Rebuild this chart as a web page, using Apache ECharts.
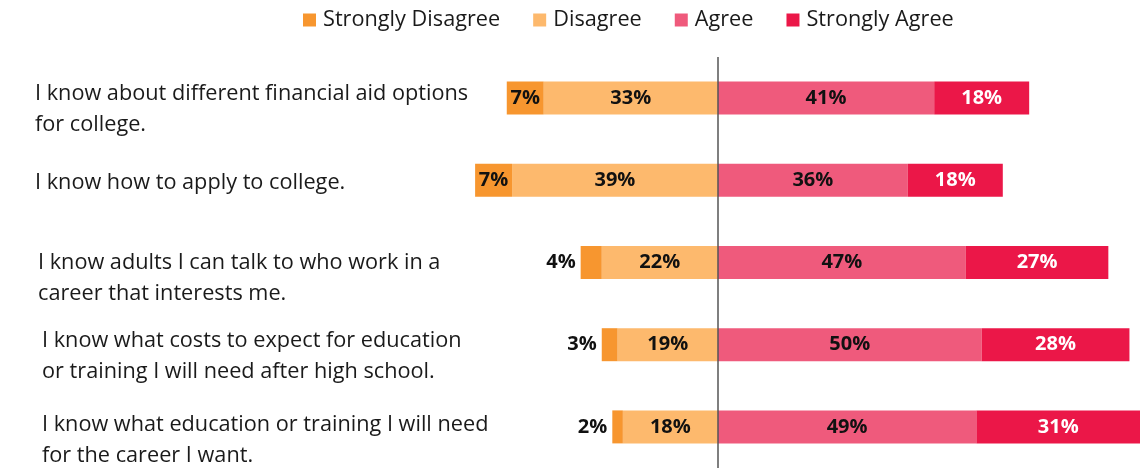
<!DOCTYPE html>
<html>
<head>
<meta charset="utf-8">
<script src="https://cdn.jsdelivr.net/npm/echarts@6/dist/echarts.min.js"></script>
<style>
  html, body { margin: 0; padding: 0; background: #fff; }
  #chart { width: 1144px; height: 474px; }
</style>
</head>
<body>
<div id="chart"></div>
<script>
// Survey statements (line breaks as they wrap in the label column)
const statements = [
  'I know about different financial aid options\nfor college.',
  'I know how to apply to college.',
  'I know adults I can talk to who work in a\ncareer that interests me.',
  'I know what costs to expect for education\nor training I will need after high school.',
  'I know what education or training I will need\nfor the career I want.'
];

// Response shares, percent
const stronglyDisagree = [7, 7, 4, 3, 2];
const disagree         = [33, 39, 22, 19, 18];
const agree            = [41, 36, 47, 50, 49];
const stronglyAgree    = [18, 18, 27, 28, 31];

const responseNames = ['Strongly Disagree', 'Disagree', 'Agree', 'Strongly Agree'];
const colors = {
  'Strongly Disagree': '#F7962F',
  'Disagree': '#FDB96D',
  'Agree': '#EF5A7C',
  'Strongly Agree': '#EB1748'
};

// Small indents of each statement label, and the height of the spacer line
// that sits the first text line next to its bar
const labelIndent = [0, 0, 3, 7, 7];
const labelTopPad = [0, 6, 0, 0, 0];
const spacerHeight = [22, 31, 31, 24, 27];

const FONT = 'Open Sans';
const FONT_SIZE = 21.7;
const LINE_H = 31;
const labelFont = { fontFamily: FONT, fontSize: FONT_SIZE, color: '#1a1a1a', lineHeight: LINE_H };

const rich = {};
labelIndent.forEach((dx, i) => {
  rich['r' + i] = Object.assign({ padding: [labelTopPad[i], 0, 0, dx] }, labelFont);
  rich['s' + i] = { fontFamily: FONT, fontSize: 4, lineHeight: spacerHeight[i] };
});

const chart = echarts.init(document.getElementById('chart'));

const barLabel = (color) => ({
  show: true,
  position: 'inside',
  fontFamily: FONT,
  fontWeight: 'bold',
  fontSize: 20,
  color: color,
  formatter: (p) => Math.abs(p.value) + '%'
});

// Slices too narrow to hold their label get it outside, to the left
const sdData = stronglyDisagree.map(v => v >= 5
  ? -v
  : { value: -v, label: { position: 'left', distance: 5 } });

const option = {
  animation: false,
  legend: {
    data: responseNames,
    top: 4,
    left: 298,
    itemWidth: 13,
    itemHeight: 13,
    itemGap: 33,
    icon: 'rect',
    textStyle: { fontFamily: FONT, fontSize: FONT_SIZE, color: '#1a1a1a', padding: [0, 0, 0, 2] }
  },
  grid: { left: 454, right: 4, top: 57, bottom: 6, containLabel: false },
  xAxis: {
    type: 'value',
    min: -50,
    max: 80,
    show: false
  },
  yAxis: {
    type: 'category',
    inverse: true,
    data: statements,
    axisLine: { show: false },
    axisTick: { show: false },
    axisLabel: {
      interval: 0,
      margin: 419,
      align: 'left',
      fontFamily: FONT,
      fontSize: FONT_SIZE,
      color: '#1a1a1a',
      lineHeight: LINE_H,
      formatter: (value, idx) => {
        const lines = value.split('\n');
        const body = lines.map(l => '{r' + idx + '|' + l + '}').join('\n');
        // spacer line above two-line labels keeps the first line level with the bar
        return lines.length > 1 ? '{s' + idx + '| }\n' + body : body;
      },
      rich: rich
    }
  },
  series: [
    {
      name: 'Disagree',
      type: 'bar',
      stack: 'resp',
      barWidth: 33,
      itemStyle: { color: colors['Disagree'] },
      label: barLabel('#111'),
      data: disagree.map(v => -v)
    },
    {
      name: 'Strongly Disagree',
      type: 'bar',
      stack: 'resp',
      itemStyle: { color: colors['Strongly Disagree'] },
      label: barLabel('#111'),
      data: sdData
    },
    {
      name: 'Agree',
      type: 'bar',
      stack: 'resp',
      itemStyle: { color: colors['Agree'] },
      label: barLabel('#111'),
      data: agree,
      markLine: {
        silent: true,
        symbol: 'none',
        label: { show: false },
        lineStyle: { color: '#555', width: 1.5, type: 'solid' },
        data: [{ xAxis: 0 }]
      }
    },
    {
      name: 'Strongly Agree',
      type: 'bar',
      stack: 'resp',
      itemStyle: { color: colors['Strongly Agree'] },
      label: barLabel('#fff'),
      data: stronglyAgree
    }
  ]
};

chart.setOption(option);
</script>
</body>
</html>
